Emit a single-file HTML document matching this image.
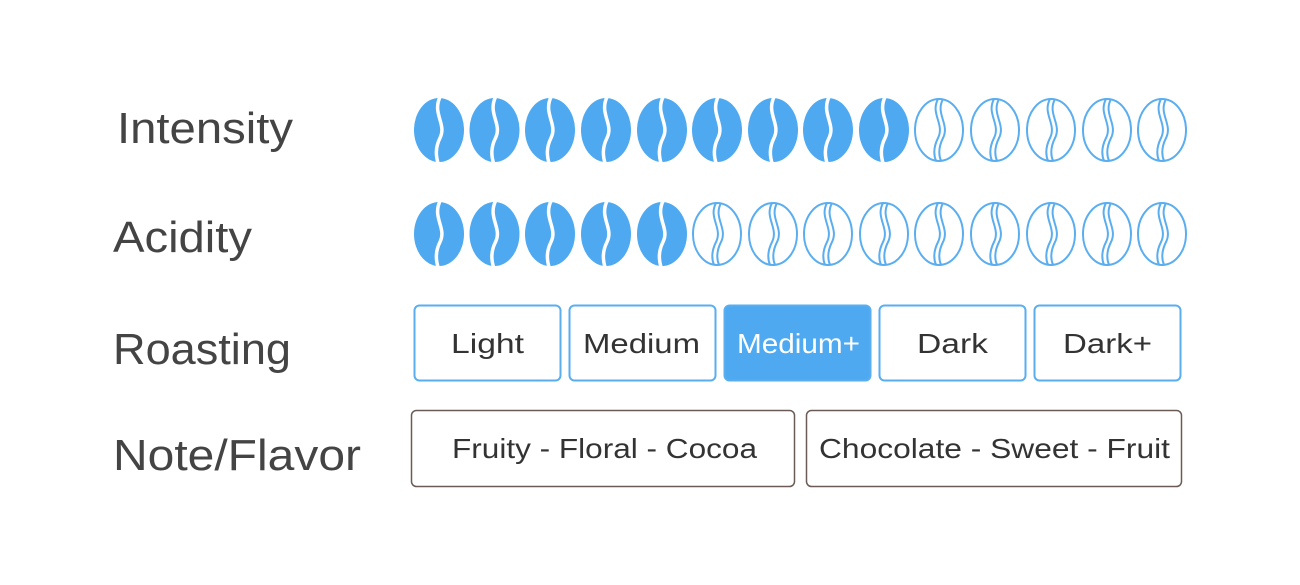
<!DOCTYPE html>
<html><head><meta charset="utf-8"><style>
body{margin:0;background:#fff;}
svg{display:block}
text{font-family:"Liberation Sans",sans-serif;}
</style></head><body>
<svg width="1300" height="585" viewBox="0 0 1300 585" xmlns="http://www.w3.org/2000/svg">
<defs>
<g id="f">
<ellipse cx="0" cy="0" rx="25" ry="32" fill="#4EA9F1"/>
<path d="M1,-33 C-7,-16 8,-6 1,8 C-4,18 -3,26 -1,33" stroke="#fff" stroke-width="3.5" fill="none"/>
</g>
<g id="o" fill="none" stroke="#5AAEF0" stroke-width="2">
<ellipse cx="0" cy="0" rx="24" ry="31"/>
<path d="M-1,-31 C-9,-16 6,-6 -1,8 C-6,18 -5,26 -3,31"/>
<path d="M4,-31 C-4,-16 11,-6 4,8 C-1,18 0,26 2,31"/>
</g>
</defs>
<g fill="#444" font-size="44">
<text x="117" y="143" textLength="176" lengthAdjust="spacingAndGlyphs">Intensity</text>
<text x="113" y="252" textLength="139" lengthAdjust="spacingAndGlyphs">Acidity</text>
<text x="113" y="364" textLength="178" lengthAdjust="spacingAndGlyphs">Roasting</text>
<text x="113" y="470" textLength="248" lengthAdjust="spacingAndGlyphs">Note/Flavor</text>
</g>
<g transform="translate(0,130)">
<use href="#f" x="439"/><use href="#f" x="494.5"/><use href="#f" x="550"/><use href="#f" x="606"/><use href="#f" x="662"/><use href="#f" x="717"/><use href="#f" x="773"/><use href="#f" x="828"/><use href="#f" x="884"/>
<use href="#o" x="939"/><use href="#o" x="995"/><use href="#o" x="1051"/><use href="#o" x="1107"/><use href="#o" x="1162"/>
</g>
<g transform="translate(0,234)">
<use href="#f" x="439"/><use href="#f" x="494.5"/><use href="#f" x="550"/><use href="#f" x="606"/><use href="#f" x="662"/>
<use href="#o" x="717"/><use href="#o" x="773"/><use href="#o" x="828"/><use href="#o" x="884"/><use href="#o" x="939"/><use href="#o" x="995"/><use href="#o" x="1051"/><use href="#o" x="1107"/><use href="#o" x="1162"/>
</g>
<g stroke="#5AAEF0" stroke-width="2" fill="#fff">
<rect x="414.5" y="305.5" width="146" height="75" rx="5"/>
<rect x="569.5" y="305.5" width="146" height="75" rx="5"/>
<rect x="724.5" y="305.5" width="146" height="75" rx="5" fill="#4EA9F1"/>
<rect x="879.5" y="305.5" width="146" height="75" rx="5"/>
<rect x="1034.5" y="305.5" width="146" height="75" rx="5"/>
</g>
<g font-size="28" fill="#333">
<text x="451" y="353" textLength="73" lengthAdjust="spacingAndGlyphs">Light</text>
<text x="583" y="353" textLength="117" lengthAdjust="spacingAndGlyphs">Medium</text>
<text x="737" y="353" fill="#fff" textLength="123" lengthAdjust="spacingAndGlyphs">Medium+</text>
<text x="917" y="353" textLength="71" lengthAdjust="spacingAndGlyphs">Dark</text>
<text x="1063" y="353" textLength="89" lengthAdjust="spacingAndGlyphs">Dark+</text>
</g>
<g stroke="#6B5A55" stroke-width="1.5" fill="none">
<rect x="411.5" y="410.5" width="383" height="76" rx="5"/>
<rect x="806.5" y="410.5" width="375" height="76" rx="5"/>
</g>
<g font-size="28" fill="#333">
<text x="452" y="458" textLength="305" lengthAdjust="spacingAndGlyphs">Fruity - Floral - Cocoa</text>
<text x="819" y="458" textLength="351" lengthAdjust="spacingAndGlyphs">Chocolate - Sweet - Fruit</text>
</g>
</svg>
</body></html>
